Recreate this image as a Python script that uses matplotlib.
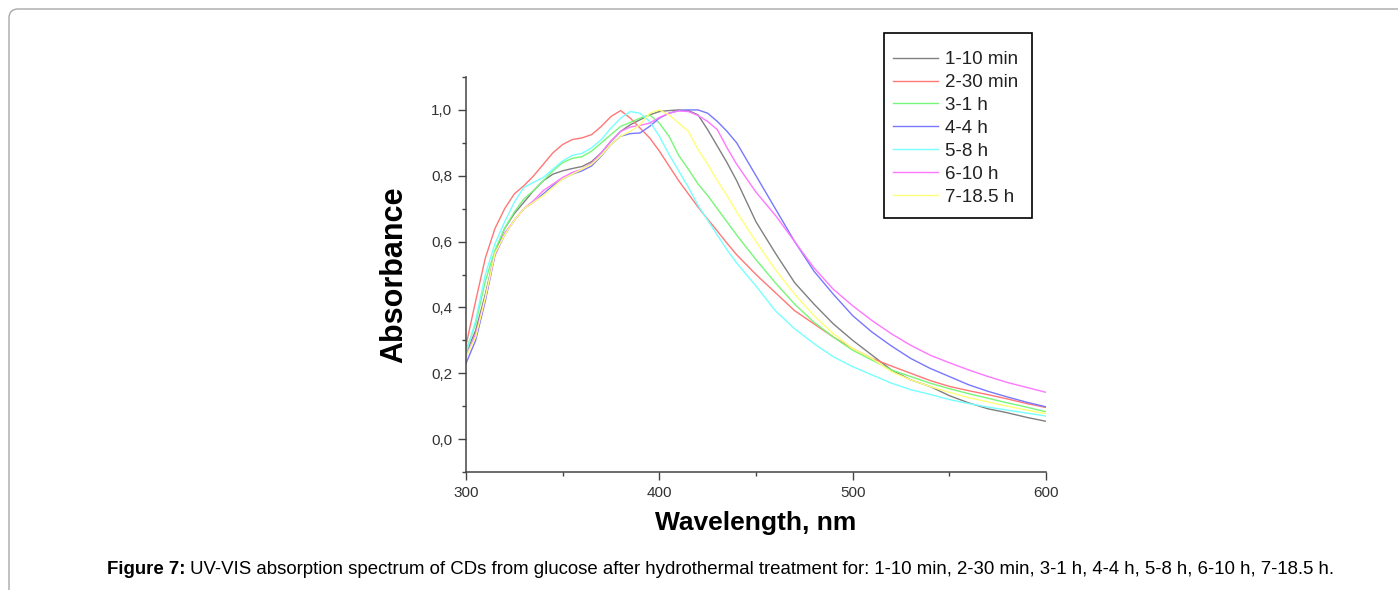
import matplotlib
matplotlib.use("Agg")
import matplotlib.pyplot as plt
from matplotlib.patches import FancyBboxPatch, Rectangle
from matplotlib.ticker import MultipleLocator, FuncFormatter

plt.rcParams['font.family'] = ['Liberation Sans', 'DejaVu Sans']

wavelength = [300, 305, 310, 315, 320, 325, 330, 335, 340, 345, 350, 355, 360, 365, 370,
              375, 380, 385, 390, 395, 400, 405, 410, 415, 420, 425, 430, 435, 440, 450,
              460, 470, 480, 490, 500, 510, 520, 530, 540, 550, 560, 570, 580, 590, 600]

s1_10min = [.26, .33, .44, .565, .64, .685, .72, .755, .785, .805, .815, .822, .828, .843, .87,
            .905, .935, .955, .97, .985, .995, .998, 1.0, .998, .985, .94, .89, .84, .785, .66,
            .565, .475, .41, .35, .30, .255, .21, .18, .16, .132, .11, .092, .08, .066, .054]
s2_30min = [.285, .42, .55, .64, .70, .745, .77, .80, .835, .87, .895, .91, .915, .925, .95,
            .98, .998, .975, .945, .915, .875, .83, .785, .745, .705, .668, .632, .595, .56, .50,
            .445, .39, .35, .31, .275, .245, .222, .20, .178, .16, .147, .135, .122, .108, .096]
s3_1h = [.27, .35, .48, .574, .64, .69, .73, .755, .785, .815, .84, .853, .858, .875, .90,
         .925, .95, .962, .975, .985, .96, .92, .862, .82, .775, .74, .70, .66, .62, .545,
         .475, .41, .355, .31, .27, .24, .21, .19, .17, .153, .138, .124, .11, .097, .083]
s4_4h = [.23, .30, .42, .56, .62, .665, .70, .72, .745, .77, .79, .805, .815, .83, .86,
         .895, .92, .928, .93, .95, .975, .99, .998, 1.0, 1.0, .99, .965, .935, .90, .80,
         .70, .60, .51, .44, .375, .325, .283, .245, .215, .19, .165, .145, .128, .112, .098]
s5_8h = [.26, .36, .50, .594, .66, .72, .765, .78, .795, .82, .845, .862, .868, .885, .91,
         .945, .975, .995, .99, .965, .92, .865, .815, .765, .71, .665, .62, .575, .535, .465,
         .39, .335, .29, .25, .22, .195, .17, .15, .136, .12, .108, .097, .088, .079, .07]
s6_10h = [.25, .32, .43, .56, .625, .665, .70, .725, .755, .775, .795, .81, .82, .838, .87,
          .905, .935, .948, .953, .96, .977, .99, .997, .995, .983, .965, .94, .885, .835, .75,
          .68, .60, .52, .455, .405, .36, .32, .285, .255, .232, .21, .19, .172, .157, .142]
s7_18h = [.25, .31, .43, .565, .62, .665, .70, .72, .74, .765, .79, .805, .82, .835, .862,
          .895, .92, .935, .955, .99, 1.0, .985, .96, .935, .88, .835, .785, .74, .69, .60,
          .515, .44, .375, .32, .275, .245, .205, .18, .16, .142, .126, .113, .10, .088, .077]

series = [s1_10min, s2_30min, s3_1h, s4_4h, s5_8h, s6_10h, s7_18h]
labels = ["1-10 min", "2-30 min", "3-1 h", "4-4 h", "5-8 h", "6-10 h", "7-18.5 h"]
colors = ["#808080", "#ff7777", "#77f777", "#7777ff", "#77ffff", "#ff77ff", "#ffff77"]

W, H = 1398, 590
fig = plt.figure(figsize=(W / 100, H / 100), dpi=100)

# rounded frame around the figure
frame = FancyBboxPatch((9, -60), 1500, H - 9 + 60, boxstyle="round,pad=0,rounding_size=9",
                       transform=None, fill=False, edgecolor="#a8a8a8", linewidth=1.0)
fig.patches.append(frame)

ax = fig.add_axes([466 / W, 1 - 472 / H, (1046 - 466) / W, (472 - 77) / H])
lines = []
for ys, lab, c in zip(series, labels, colors):
    ln, = ax.plot(wavelength, ys, color=c, lw=1.0, label=lab)
    lines.append(ln)

ax.set_xlim(300, 600)
ax.set_ylim(-0.1, 1.1)
ax.spines['top'].set_visible(False)
ax.spines['right'].set_visible(False)
for sp in ('left', 'bottom'):
    ax.spines[sp].set_color('#444444')
    ax.spines[sp].set_linewidth(1.1)

ax.xaxis.set_major_locator(MultipleLocator(100))
ax.xaxis.set_minor_locator(MultipleLocator(50))
ax.set_yticks([0.0, 0.2, 0.4, 0.6, 0.8, 1.0])
ax.yaxis.set_minor_locator(MultipleLocator(0.1))
ax.yaxis.set_major_formatter(FuncFormatter(lambda v, p: f"{v:.1f}".replace('.', ',')))
ax.tick_params(which='major', direction='out', length=6, width=1.0, color='#444444',
               labelsize=11, labelcolor='#333333', pad=4)
ax.tick_params(which='minor', direction='out', length=3, width=1.0, color='#444444')

ax.set_xlabel("Wavelength, nm", fontsize=19, fontweight='bold', labelpad=8)
ax.set_ylabel("Absorbance", fontsize=22, fontweight='bold', labelpad=16)

# legend (entries) plus a separate box drawn at the reference position
leg_fs = 13.5
leg = fig.legend(handles=lines, labels=labels, loc='upper left',
                 bbox_to_anchor=(893 / W, 1 - 51 / H), bbox_transform=fig.transFigure,
                 fontsize=leg_fs, frameon=False,
                 handlelength=2.4, handletextpad=0.4, labelspacing=0.31, borderpad=0,
                 borderaxespad=0)
for t in leg.get_texts():
    t.set_color('#222222')
box = Rectangle((884, H - 218), 1032 - 884, 218 - 33, transform=None, fill=False,
                edgecolor='black', linewidth=1.2)
fig.patches.append(box)

# caption with bold prefix
renderer = fig.canvas.get_renderer()
cap_y = 1 - 570 / H
cap_fs = 13.4
t1 = fig.text(0, cap_y, "Figure 7:", fontsize=cap_fs, fontweight='bold', va='center', ha='left')
t2 = fig.text(0, cap_y, " UV-VIS absorption spectrum of CDs from glucose after hydrothermal treatment for: "
              "1-10 min, 2-30 min, 3-1 h, 4-4 h, 5-8 h, 6-10 h, 7-18.5 h.",
              fontsize=cap_fs, va='center', ha='left')
w1 = t1.get_window_extent(renderer).width
w2 = t2.get_window_extent(renderer).width
x0 = 720.5 - (w1 + w2) / 2
t1.set_x(x0 / W)
t2.set_x((x0 + w1) / W)

fig.savefig("out.png", dpi=100)
